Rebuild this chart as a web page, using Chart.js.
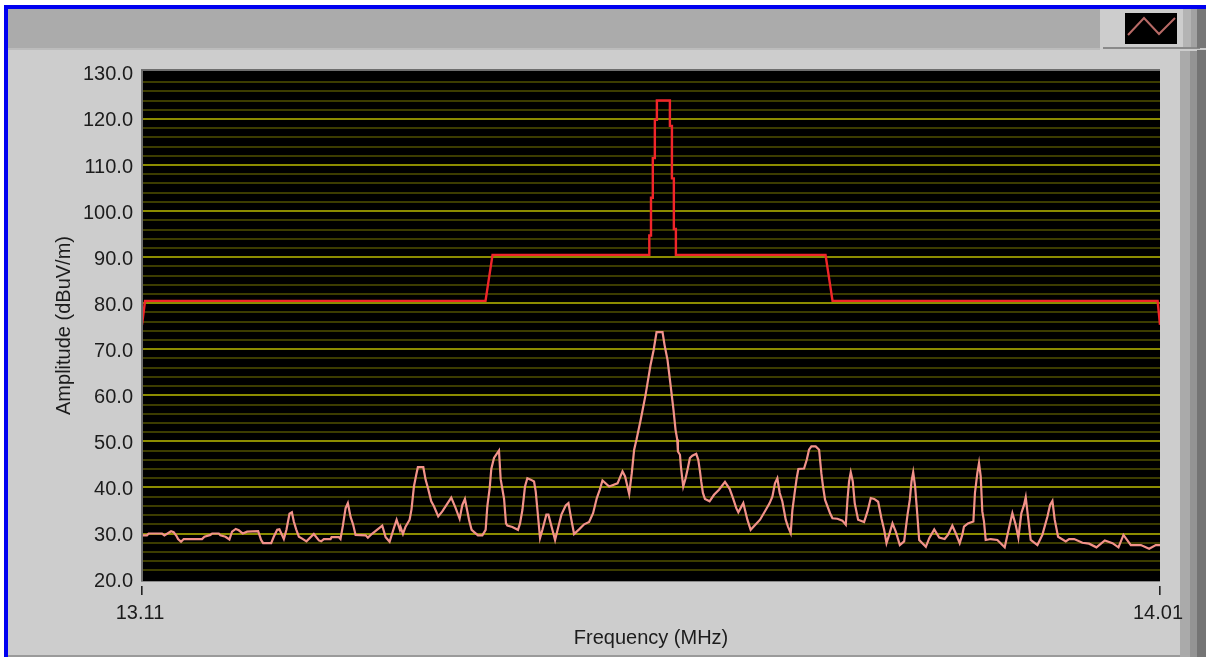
<!DOCTYPE html>
<html><head><meta charset="utf-8">
<style>
html,body{margin:0;padding:0;background:#fff;width:1206px;height:657px;overflow:hidden}
.c{position:absolute}
#chart{position:absolute;left:0;top:0;filter:blur(0.4px)}
</style>
<script src="https://cdn.jsdelivr.net/npm/chart.js@4"></script>
</head><body>
<div class="c" style="left:4px;top:5px;width:1202px;height:652px;background:#0000f0"></div>
<div class="c" style="left:8px;top:9px;width:1198px;height:648px;background:#cdcdcd"></div>
<div class="c" style="left:8px;top:9px;width:1092px;height:39px;background:#ababab"></div>
<div class="c" style="left:8px;top:48px;width:1092px;height:2px;background:#bcbcbc"></div>
<div class="c" style="left:1103px;top:47px;width:97px;height:2px;background:#8a8a8a"></div>
<div class="c" style="left:1180px;top:51px;width:10px;height:606px;background:#aaaaaa"></div>
<div class="c" style="left:1190px;top:51px;width:7px;height:606px;background:#949494"></div>
<div class="c" style="left:1197px;top:50px;width:9px;height:607px;background:#757575"></div>
<div class="c" style="left:1183px;top:9px;width:8px;height:38px;background:#b4b4b4"></div>
<div class="c" style="left:1191px;top:9px;width:6px;height:38px;background:#a2a2a2"></div>
<div class="c" style="left:1197px;top:9px;width:9px;height:39px;background:#777777"></div>
<div class="c" style="left:8px;top:655px;width:1172px;height:2px;background:#9a9a9a"></div>
<svg class="c" style="left:1125px;top:13px;filter:blur(0.4px)" width="52" height="31" viewBox="0 0 52 31">
<rect width="52" height="31" fill="#000"/>
<polyline points="3,22 19,5 34,21 50,5" fill="none" stroke="#b86a66" stroke-width="2"/>
</svg>
<canvas id="chart" width="1206" height="657"></canvas>
<script>
const noiseFreq=[13.1100,13.1144,13.1159,13.1277,13.1298,13.1357,13.1380,13.1404,13.1419,13.1445,13.1469,13.1631,13.1652,13.1705,13.1720,13.1779,13.1793,13.1838,13.1873,13.1896,13.1929,13.1956,13.1991,13.2029,13.2127,13.2153,13.2171,13.2242,13.2265,13.2295,13.2315,13.2354,13.2377,13.2404,13.2425,13.2442,13.2463,13.2487,13.2516,13.2554,13.2619,13.2664,13.2684,13.2708,13.2767,13.2776,13.2841,13.2855,13.2876,13.2900,13.2920,13.2944,13.2967,13.2988,13.3077,13.3097,13.3136,13.3224,13.3254,13.3289,13.3327,13.3351,13.3380,
13.3386,13.3407,13.3430,13.3466,13.3483,13.3504,13.3525,13.3539,13.3587,13.3607,13.3628,13.3657,13.3681,13.3719,13.3755,13.3834,13.3873,13.3908,13.3932,13.3955,13.3991,13.4014,13.4070,13.4109,13.4138,13.4153,13.4174,13.4188,13.4212,13.4242,13.4256,13.4271,13.4301,13.4318,13.4330,13.4374,13.4424,13.4442,13.4463,13.4486,13.4507,13.4537,13.4566,13.4581,13.4596,13.4619,13.4640,13.4675,13.4693,13.4728,13.4752,13.4778,13.4808,13.4846,13.4870,13.4896,13.4920,13.4964,13.5009,13.5053,13.5088,13.5121,13.5147,13.5171,13.5230,13.5304,13.5348,13.5371,13.5407,13.5430,13.5451,13.5472,
13.5508,13.5552,13.5596,13.5623,13.5649,13.5702,13.5720,13.5746,13.5773,13.5799,13.5817,
13.5832,13.5838,13.5856,13.5864,13.5876,13.5885,13.5906,13.5926,13.5944,13.5965,13.6000,13.6018,13.6033,13.6044,13.6059,13.6077,13.6118,13.6157,13.6201,13.6254,13.6295,13.6325,13.6354,13.6372,13.6416,13.6452,13.6481,13.6564,13.6614,13.6649,13.6673,13.6696,13.6717,13.6738,13.6761,13.6791,13.6811,13.6835,13.6850,13.6870,13.6888,13.6903,13.6953,13.6977,13.6997,13.7018,13.7056,13.7086,13.7106,13.7121,13.7139,13.7183,13.7204,13.7248,13.7292,13.7322,13.7337,13.7351,13.7366,13.7384,13.7401,13.7431,13.7484,13.7514,13.7543,13.7573,13.7608,13.7637,13.7661,13.7682,13.7705,13.7735,13.7764,13.7800,13.7838,13.7868,13.7888,13.7903,13.7918,13.7935,13.7950,13.7971,13.8030,13.8060,13.8104,13.8148,
13.8196,13.8225,13.8264,13.8293,13.8329,13.8352,13.8367,13.8402,13.8450,13.8464,13.8485,13.8500,13.8515,13.8529,13.8544,13.8559,13.8603,13.8662,13.8727,13.8751,13.8768,13.8795,13.8824,13.8848,13.8874,13.8898,13.8913,13.8936,13.8957,13.9016,13.9060,13.9105,13.9128,13.9149,13.9169,13.9199,13.9267,13.9296,13.9341,13.9414,13.9473,13.9538,13.9612,13.9680,13.9733,13.9777,13.9842,13.9931,14.0004,14.0063,14.0100];
const noiseAmp=[29.6,29.6,30.0,30.0,29.6,30.5,30.3,29.5,28.8,28.2,28.8,28.8,29.3,29.7,30.0,30.0,29.6,29.3,28.7,30.4,31.0,30.7,30.0,30.4,30.5,28.6,27.9,27.9,29.3,30.8,30.9,28.8,30.8,34.3,34.6,32.6,30.9,29.3,28.9,28.3,29.9,28.5,28.3,28.8,28.8,29.2,29.2,28.8,31.7,35.5,36.6,33.6,31.9,29.7,29.6,29.1,30.0,31.7,29.2,28.2,31.2,33.0,30.8,
31.4,29.9,31.5,33.0,35.3,40.2,42.8,44.4,44.4,41.7,39.9,37.0,35.9,33.7,34.8,37.8,35.5,33.2,36.2,37.5,33.0,30.8,29.6,29.6,30.8,35.9,39.9,44.0,46.4,47.5,48.0,41.8,37.5,32.2,31.7,31.4,30.8,32.2,35.1,40.2,42.0,41.7,41.3,39.1,35.1,29.0,30.8,34.1,34.1,30.8,28.6,31.2,34.1,36.1,36.6,33.0,29.9,30.9,32.0,32.5,34.4,37.7,39.5,41.5,40.2,40.9,43.5,42.4,38.6,43.1,48.2,50.4,
54.6,60.1,66.6,69.8,73.7,73.7,70.9,67.7,62.2,56.8,52.5,
50.4,47.8,47.1,44.6,42.0,40.2,42.0,44.2,46.4,46.9,47.3,46.0,43.5,41.3,38.8,37.5,37.0,38.4,39.5,41.2,39.7,37.7,35.5,34.6,36.6,33.0,30.8,33.0,35.1,36.6,38.0,40.9,42.0,38.8,37.0,33.0,31.5,30.1,35.1,38.8,42.0,44.0,44.1,46.0,48.2,48.9,48.9,48.2,43.1,40.2,37.3,34.4,33.3,33.2,32.8,31.9,37.3,41.3,43.3,41.3,36.6,33.0,32.5,34.8,37.7,37.5,36.9,33.3,30.8,27.9,29.7,32.2,30.4,27.5,28.3,34.1,37.3,41.3,43.3,40.2,35.5,28.6,27.1,29.0,30.9,29.1,
28.8,29.7,31.7,30.1,27.9,29.7,31.5,32.2,32.6,38.8,43.1,45.3,42.4,34.8,32.6,28.6,28.8,28.6,27.0,29.7,31.5,34.4,31.9,29.1,34.4,36.2,37.9,33.0,28.6,27.5,29.7,33.7,36.2,37.1,33.0,29.3,28.3,28.8,28.8,28.0,27.8,27.0,28.5,27.9,27.0,29.7,27.5,27.5,26.7,27.5,27.5];
const limitFreq=[13.1100,13.1127,13.4137,13.4199,13.5585,13.5585,13.5600,13.5600,13.5616,13.5616,13.5634,13.5634,13.5652,13.5652,13.5767,13.5767,13.5785,13.5785,13.5802,13.5802,13.5820,13.5820,13.7143,13.7205,14.0079,14.0100];
const limitAmp=[75.3,80.5,80.5,90.5,90.5,94.7,94.7,102.9,102.9,111.5,111.5,119.8,119.8,124.0,124.0,118.5,118.5,107.1,107.1,96.1,96.1,90.5,90.5,80.5,80.5,75.3];
const xTicks=[13.11,14.01];
const yMajor=[20,30,40,50,60,70,80,90,100,110,120,130];
const yMinor=[22,24,26,28,32,34,36,38,42,44,46,48,52,54,56,58,62,64,66,68,72,74,76,78,82,84,86,88,92,94,96,98,102,104,106,108,112,114,116,118,122,124,126,128];
const xLabel='Frequency (MHz)', yLabel='Amplitude (dBuV/m)';
const FONT='"Liberation Sans", Arial, sans-serif';
const TXT='#1c1c1c';
const pairs=(a,b)=>a.map((x,i)=>({x:x,y:b[i]}));
const plotBg={id:'plotBg',
 beforeDraw(c){const a=c.chartArea,g=c.ctx;g.save();g.fillStyle='#000';g.fillRect(a.left,a.top,a.width,a.height);g.restore();},
 afterDraw(c){const a=c.chartArea,g=c.ctx,sx=c.scales.x;g.save();
  g.fillStyle='#6e6e6e';g.fillRect(a.left-1,a.top-1,a.width+1,2);g.fillRect(a.left-1,a.top-1,2,a.height+1);
  g.fillStyle='#8a8a8a';g.fillRect(a.left-1,a.bottom,a.width+1,1);
  g.fillStyle='#222';xTicks.forEach(v=>{g.fillRect(Math.round(sx.getPixelForValue(v))-1,586,1.6,9);});
  g.restore();}};
Chart.defaults.animation=false;
new Chart(document.getElementById('chart'),{
 type:'scatter',
 plugins:[plotBg],
 data:{datasets:[
  {data:pairs(limitFreq,limitAmp),showLine:true,borderColor:'#f0252a',borderWidth:2.4,pointRadius:0,tension:0},
  {data:pairs(noiseFreq,noiseAmp),showLine:true,borderColor:'#f2928a',borderWidth:2.2,pointRadius:0,tension:0}
 ]},
 options:{responsive:false,devicePixelRatio:1,
  layout:{autoPadding:false,padding:{left:0,top:70,right:46,bottom:0}},
  plugins:{legend:{display:false},tooltip:{enabled:false},title:{display:false}},
  scales:{
   x:{type:'linear',min:13.11,max:14.01,
    afterBuildTicks(s){s.ticks=xTicks.map(v=>({value:v}));},
    afterFit(s){s.height=76;},
    grid:{display:false},border:{display:false},
    ticks:{autoSkip:false,maxRotation:0,padding:12,labelOffset:-2,color:TXT,font:{family:FONT,size:20},callback:v=>v.toFixed(2)},
    title:{display:true,text:xLabel,color:TXT,font:{family:FONT,size:20},padding:{top:0,bottom:7}}},
   y:{type:'linear',min:19.69,max:130.63,
    afterBuildTicks(s){s.ticks=yMajor.concat(yMinor).sort((a,b)=>a-b).map(v=>({value:v}));},
    afterFit(s){s.width=142;},
    grid:{drawTicks:false,lineWidth:2,color:c=>{const v=c.tick.value;if(v===20||v===130)return 'rgba(0,0,0,0)';return v%10===0?'#8c8c00':'#3c3c00';}},
    border:{display:false},
    ticks:{autoSkip:false,padding:9,labelOffset:2,color:TXT,font:{family:FONT,size:20},callback:v=>v%10===0?v.toFixed(1):''},
    title:{display:true,text:yLabel,color:TXT,font:{family:FONT,size:20},padding:{top:52,bottom:8}}}
  }}
});
</script>
</body></html>
